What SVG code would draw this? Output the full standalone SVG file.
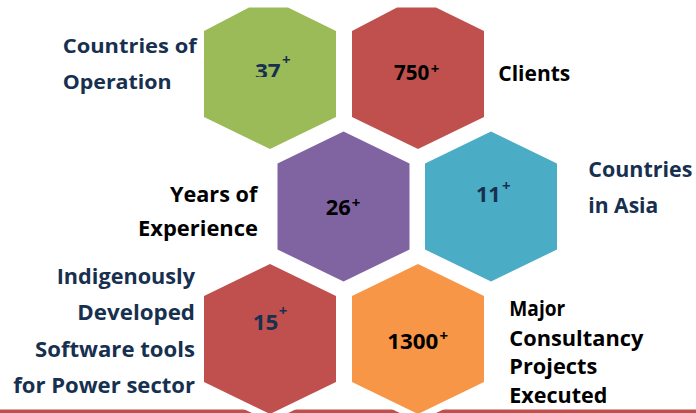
<svg xmlns="http://www.w3.org/2000/svg" width="696" height="413" viewBox="0 0 696 413">
  <defs>
    <style>
      .hex { stroke: #ffffff; stroke-width: 14; paint-order: stroke; stroke-linejoin: miter; }
      .lbl { font-family: "Open Sans", "Liberation Sans", sans-serif; font-weight: 700; font-size: 22px; }
      .sm { font-size: 20.5px; }
      .num { font-family: "Open Sans", "Liberation Sans", sans-serif; font-weight: 700; font-size: 22px; }
      .plus { font-family: "Open Sans", "Liberation Sans", sans-serif; font-weight: 700; font-size: 15px; text-anchor: middle; }
      .navy { fill: #17304f; }
      .blk { fill: #000000; }
    </style>
    <clipPath id="clip37">
      <rect x="240" y="40" width="60" height="37"/>
    </clipPath>
  </defs>
  <rect x="0" y="0" width="696" height="413" fill="#ffffff"/>
  <rect id="baseline-bar" x="0" y="409.5" width="696" height="3.5" fill="#c0504d"/>
  <g id="connectors"/>

  <g id="node-countries-operation">
    <polygon class="hex" fill="#9bbb59" points="249,7.5 288,7.5 336,31 336,117 270,149 204,117 204,31"/>
    <g clip-path="url(#clip37)">
      <text class="num navy" x="255" y="78.5" textLength="25.7" lengthAdjust="spacingAndGlyphs">37</text>
    </g>
    <text class="plus navy" x="286.3" y="65.4">+</text>
    <text class="lbl navy" style="font-size:20px" x="62.7" y="52.7" textLength="134" lengthAdjust="spacingAndGlyphs">Countries of</text>
    <text class="lbl navy" style="font-size:20px" x="62.7" y="89.3" textLength="109" lengthAdjust="spacingAndGlyphs">Operation</text>
  </g>

  <g id="node-clients">
    <polygon class="hex" fill="#c0504d" points="397,7.5 436,7.5 484,31 484,117 418,149 352,117 352,31"/>
    <text class="num blk" x="394" y="80" textLength="35.3" lengthAdjust="spacingAndGlyphs">750</text>
    <text class="plus blk" x="435" y="74">+</text>
    <text class="lbl blk" x="498.3" y="80.7" textLength="72" lengthAdjust="spacingAndGlyphs">Clients</text>
  </g>

  <g id="node-years-experience">
    <polygon class="hex" fill="#8064a2" points="343.5,131.5 409.5,163.5 409.5,249.5 343.5,281.5 277.5,249.5 277.5,163.5"/>
    <text class="num blk" x="325.7" y="215" textLength="25" lengthAdjust="spacingAndGlyphs">26</text>
    <text class="plus blk" x="356" y="208">+</text>
    <text class="lbl blk" x="170" y="201.7" textLength="87.3" lengthAdjust="spacingAndGlyphs">Years of</text>
    <text class="lbl blk" x="138" y="236" textLength="120" lengthAdjust="spacingAndGlyphs">Experience</text>
  </g>

  <g id="node-countries-asia">
    <polygon class="hex" fill="#4bacc6" points="491,131.5 557,163.5 557,249.5 491,281.5 425,249.5 425,163.5"/>
    <text class="num navy" x="476" y="201.7" textLength="24.7" lengthAdjust="spacingAndGlyphs">11</text>
    <text class="plus navy" x="506.3" y="191">+</text>
    <text class="lbl navy" x="588.3" y="177.3" textLength="104" lengthAdjust="spacingAndGlyphs">Countries</text>
    <text class="lbl navy" x="588.3" y="213.3" textLength="70" lengthAdjust="spacingAndGlyphs">in Asia</text>
  </g>

  <g id="node-software-tools">
    <polygon class="hex" fill="#c0504d" points="270,264 336,296 336,382 270,414 204,382 204,296"/>
    <text class="num navy" x="252.7" y="330" textLength="25.6" lengthAdjust="spacingAndGlyphs">15</text>
    <text class="plus navy" x="283" y="316.4">+</text>
    <text class="lbl navy" x="56.7" y="284" textLength="138.3" lengthAdjust="spacingAndGlyphs">Indigenously</text>
    <text class="lbl navy" x="77.3" y="320" textLength="117.7" lengthAdjust="spacingAndGlyphs">Developed</text>
    <text class="lbl navy" x="35" y="356.7" textLength="160" lengthAdjust="spacingAndGlyphs">Software tools</text>
    <text class="lbl navy" x="13.3" y="392.7" textLength="181.7" lengthAdjust="spacingAndGlyphs">for Power sector</text>
  </g>

  <g id="node-consultancy-projects">
    <polygon class="hex" fill="#f79646" points="418,264 484,296 484,382 418,414 352,382 352,296"/>
    <text class="num blk" x="387.3" y="349" textLength="51" lengthAdjust="spacingAndGlyphs">1300</text>
    <text class="plus blk" x="443.8" y="341.4">+</text>
    <text class="lbl sm blk" x="509.3" y="315.7" textLength="56" lengthAdjust="spacingAndGlyphs">Major</text>
    <text class="lbl sm blk" x="509.3" y="346" textLength="134" lengthAdjust="spacingAndGlyphs">Consultancy</text>
    <text class="lbl sm blk" x="509.3" y="373.8" textLength="88" lengthAdjust="spacingAndGlyphs">Projects</text>
    <text class="lbl sm blk" x="509.3" y="402.7" textLength="98" lengthAdjust="spacingAndGlyphs">Executed</text>
  </g>
</svg>
